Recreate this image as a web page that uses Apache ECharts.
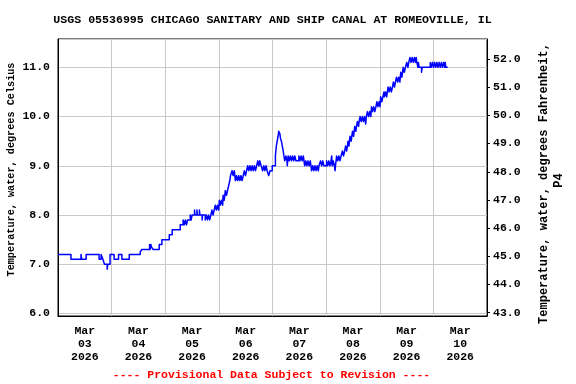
<!DOCTYPE html>
<html>
<head>
<meta charset="utf-8">
<script src="https://cdn.jsdelivr.net/npm/echarts@6/dist/echarts.min.js"></script>
<style>html,body{margin:0;padding:0;background:#fff}#c{width:576px;height:384px}</style>
</head>
<body>
<div id="c"></div>
<script>
// Tick labels for days (label centered on each day)
const dayLabels = ["Mar\n03\n2026","Mar\n04\n2026","Mar\n05\n2026","Mar\n06\n2026","Mar\n07\n2026","Mar\n08\n2026","Mar\n09\n2026","Mar\n10\n2026"];
const titleText = "USGS 05536995 CHICAGO SANITARY AND SHIP CANAL AT ROMEOVILLE, IL";
const leftAxisName = "Temperature, water, degrees Celsius";
const rightAxisName1 = "Temperature, water, degrees Fahrenheit,";
const rightAxisName2 = "P4";
const footnote = "---- Provisional Data Subject to Revision ----";
// Readings: [hours since Mar 03 00:00, water temperature degC] (value holds until next change)
const readings = [
[0,7.2],[5.8,7.1],[10.3,7.2],[10.6,7.1],[12.6,7.2],[18.4,7.1],[19.3,7.2],[20.1,7.1],[20.8,7.0],[22.0,6.9],[22.3,7.0],
[23.3,7.2],[25.1,7.1],[27.1,7.2],[28.6,7.1],[31.9,7.2],[36.8,7.25],[37.5,7.3],[41.0,7.4],[41.2,7.3],[41.6,7.4],[41.8,7.35],
[42.6,7.3],[45.3,7.4],[46.5,7.5],[49.8,7.6],[51.1,7.7],[54.7,7.8],
[56.0,7.9],[56.5,7.8],[57.0,7.9],[57.5,7.8],[58.0,7.9],[59.2,8.0],[59.6,7.9],[60.0,8.0],
[61.1,8.1],[61.3,8.0],[62.2,8.1],[62.4,8.0],[63.3,8.1],[63.5,8.0],[64.5,7.9],[64.7,8.0],
[65.9,7.9],[66.4,8.0],[66.9,7.9],[67.4,8.0],[67.9,7.9],[68.4,8.0],
[68.9,8.1],[69.4,8.0],[69.9,8.1],
[70.4,8.2],[70.9,8.1],[71.4,8.2],[71.9,8.1],
[72.2,8.3],[72.7,8.2],[73.2,8.3],[73.7,8.2],
[73.9,8.4],[74.4,8.3],[74.9,8.5],[75.4,8.4],
[75.9,8.5],[76.4,8.6],[76.9,8.7],[77.2,8.8],
[77.9,8.9],[78.4,8.8],[78.9,8.9],
[79.4,8.7],[79.9,8.8],[80.4,8.7],[80.9,8.8],[81.4,8.7],[81.9,8.8],[82.4,8.7],[82.9,8.8],
[83.4,8.9],[83.9,8.8],[84.4,8.9],
[84.9,9.0],[85.4,8.9],[85.9,9.0],[86.4,8.9],[86.9,9.0],[87.4,8.9],[87.9,9.0],[88.4,8.9],[88.9,9.0],
[89.4,9.1],[89.9,9.0],[90.3,9.1],[90.9,9.0],
[91.6,8.9],[92.1,9.0],[92.6,8.9],[93.1,9.0],[93.6,8.9],
[94.3,8.8],[94.9,8.9],[95.9,9.0],
[97.3,9.2],[97.7,9.4],[98.1,9.5],[98.5,9.6],[98.8,9.7],[99.3,9.65],[99.6,9.55],[100.0,9.5],[100.4,9.4],[100.8,9.3],[101.1,9.2],
[101.5,9.1],[102.0,9.2],[102.5,9.1],[102.6,9.0],[102.8,9.1],[103.0,9.2],[103.5,9.1],[104.0,9.2],[104.5,9.1],[105.0,9.2],[105.5,9.1],[106.0,9.2],[106.5,9.1],
[107.8,9.2],[108.3,9.1],[108.8,9.2],[109.3,9.1],[109.8,9.2],
[110.4,9.0],[110.9,9.1],[111.4,9.0],[111.9,9.1],[112.4,9.0],[112.9,9.1],
[113.5,8.9],[114.0,9.0],[114.5,8.9],[115.0,9.0],[115.5,8.9],[116.0,9.0],[116.5,8.9],
[116.8,9.0],
[117.5,9.1],[118.0,9.0],[118.5,9.1],[119.0,9.0],
[120.2,9.1],[120.7,9.0],[121.2,9.1],[121.7,9.0],[122.2,9.1],
[122.5,9.2],[122.7,9.0],[123.2,9.1],[123.7,9.0],[124.0,8.9],[124.2,9.0],
[124.7,9.2],[125.2,9.1],[125.7,9.2],[126.2,9.1],[126.7,9.2],
[127.3,9.3],[127.8,9.2],[128.3,9.3],
[128.7,9.4],[129.2,9.3],
[129.8,9.5],[130.2,9.4],
[130.7,9.6],[131.2,9.5],
[131.8,9.7],[132.3,9.6],
[132.8,9.8],[133.3,9.7],[133.6,9.8],
[134.0,9.9],[134.5,9.8],[134.8,9.9],
[135.2,10.0],[135.7,9.9],
[136.2,10.0],[136.7,9.9],[137.2,10.0],[137.7,9.85],[138.0,10.0],
[138.5,10.1],[139.0,10.0],[139.5,10.1],[140.0,10.0],
[140.3,10.2],[140.8,10.1],[141.3,10.2],[141.8,10.1],[142.3,10.2],
[142.7,10.3],[143.2,10.2],[143.7,10.3],[144.1,10.2],
[144.4,10.4],[144.9,10.3],[145.4,10.4],
[145.9,10.5],[146.1,10.4],[146.6,10.5],[147.1,10.4],
[147.7,10.6],[148.2,10.5],[148.7,10.6],[149.2,10.5],[149.7,10.6],
[150.1,10.7],[150.6,10.6],[151.0,10.7],
[151.5,10.8],[152.0,10.7],[152.5,10.8],[153.0,10.7],
[153.4,10.9],[153.9,10.8],
[154.5,11.0],[155.0,10.9],[155.5,11.0],
[156.1,11.1],[156.6,11.0],[157.0,11.1],
[157.5,11.2],[158.0,11.1],[158.5,11.2],[159.0,11.1],[159.5,11.2],[160.0,11.1],[160.3,11.2],
[160.6,11.1],[161.1,11.0],[161.3,11.1],
[161.6,11.0],[162.7,10.9],[163.0,11.0],
[166.6,11.1],[167.1,11.0],[167.6,11.1],[168.1,11.0],[168.6,11.1],[169.1,11.0],[169.6,11.1],[170.1,11.0],
[170.6,11.1],[171.1,11.0],[171.6,11.1],[172.1,11.0],[172.6,11.1],[173.1,11.0],[173.3,11.1],[173.6,11.0],[174.4,11.0]
];

const FONT = "'Liberation Mono', 'DejaVu Sans Mono', monospace";
const chart = echarts.init(document.getElementById('c'), null, {renderer: 'canvas'});
const gridLeft = 58, gridRight = 89, gridTop = 39, gridBottom = 68;
const lbl = {fontFamily: FONT, fontWeight: 'bold', fontSize: 11.5, color: '#000'};

chart.setOption({
  animation: false,
  backgroundColor: '#fff',
  grid: {left: gridLeft, right: gridRight, top: gridTop, bottom: gridBottom, show: true, borderColor: '#000', borderWidth: 1, backgroundColor: 'transparent'},
  xAxis: [
    {type: 'value', position: 'bottom', min: 0, max: 192, interval: 24,
     axisLine: {show: true, lineStyle: {color: '#000', width: 1}}, axisTick: {show: false}, axisLabel: {show: false},
     splitLine: {show: true, lineStyle: {color: '#c8c8c8', width: 1}}},
    {type: 'category', position: 'bottom', data: dayLabels, boundaryGap: true,
     axisLine: {show: false}, axisTick: {show: false}, splitLine: {show: false},
     axisLabel: Object.assign({margin: 9, lineHeight: 13, interval: 0, align: 'center'}, lbl)}
  ],
  yAxis: [
    {type: 'value', position: 'left', min: 5.949, max: 11.575, minInterval: 1, maxInterval: 1,
     axisLine: {show: true, lineStyle: {color: '#000'}}, axisTick: {show: false},
     axisLabel: Object.assign({margin: 8, showMinLabel: false, showMaxLabel: false, formatter: v => v.toFixed(1)}, lbl),
     splitLine: {show: true, lineStyle: {color: '#c8c8c8', width: 1}}},
    {type: 'value', position: 'right', min: 42.883, max: 52.71, minInterval: 1, maxInterval: 1,
     axisLine: {show: true, lineStyle: {color: '#000'}}, axisTick: {show: true, inside: false, length: 3, lineStyle: {color: '#000'}},
     axisLabel: Object.assign({margin: 6, showMinLabel: false, showMaxLabel: false, formatter: v => v.toFixed(1)}, lbl),
     splitLine: {show: false}}
  ],
  series: [{
    type: 'line', xAxisIndex: 0, yAxisIndex: 0, step: 'end', showSymbol: false, symbol: 'none',
    data: readings, clip: true, sampling: null,
    lineStyle: {color: '#0000ff', width: 1.5, join: 'round', cap: 'butt'}
  }],
  graphic: [
    {type: 'text', x: 272.5, y: 20, style: {text: titleText, font: "bold 11.6px " + FONT, fill: '#000', align: 'center', verticalAlign: 'middle'}},
    {type: 'text', x: 11, y: 169.5, rotation: Math.PI / 2, style: {text: leftAxisName, font: "bold 10.2px " + FONT, fill: '#000', align: 'center', verticalAlign: 'middle'}},
    {type: 'text', x: 543.5, y: 183.5, rotation: Math.PI / 2, style: {text: rightAxisName1, font: "bold 12px " + FONT, fill: '#000', align: 'center', verticalAlign: 'middle'}},
    {type: 'text', x: 558.5, y: 180.5, rotation: Math.PI / 2, style: {text: rightAxisName2, font: "bold 12px " + FONT, fill: '#000', align: 'center', verticalAlign: 'middle'}},
    {type: 'text', x: 271.5, y: 375, style: {text: footnote, font: "bold 11.5px " + FONT, fill: '#ff0000', align: 'center', verticalAlign: 'middle'}}
  ]
});
</script>
</body>
</html>
